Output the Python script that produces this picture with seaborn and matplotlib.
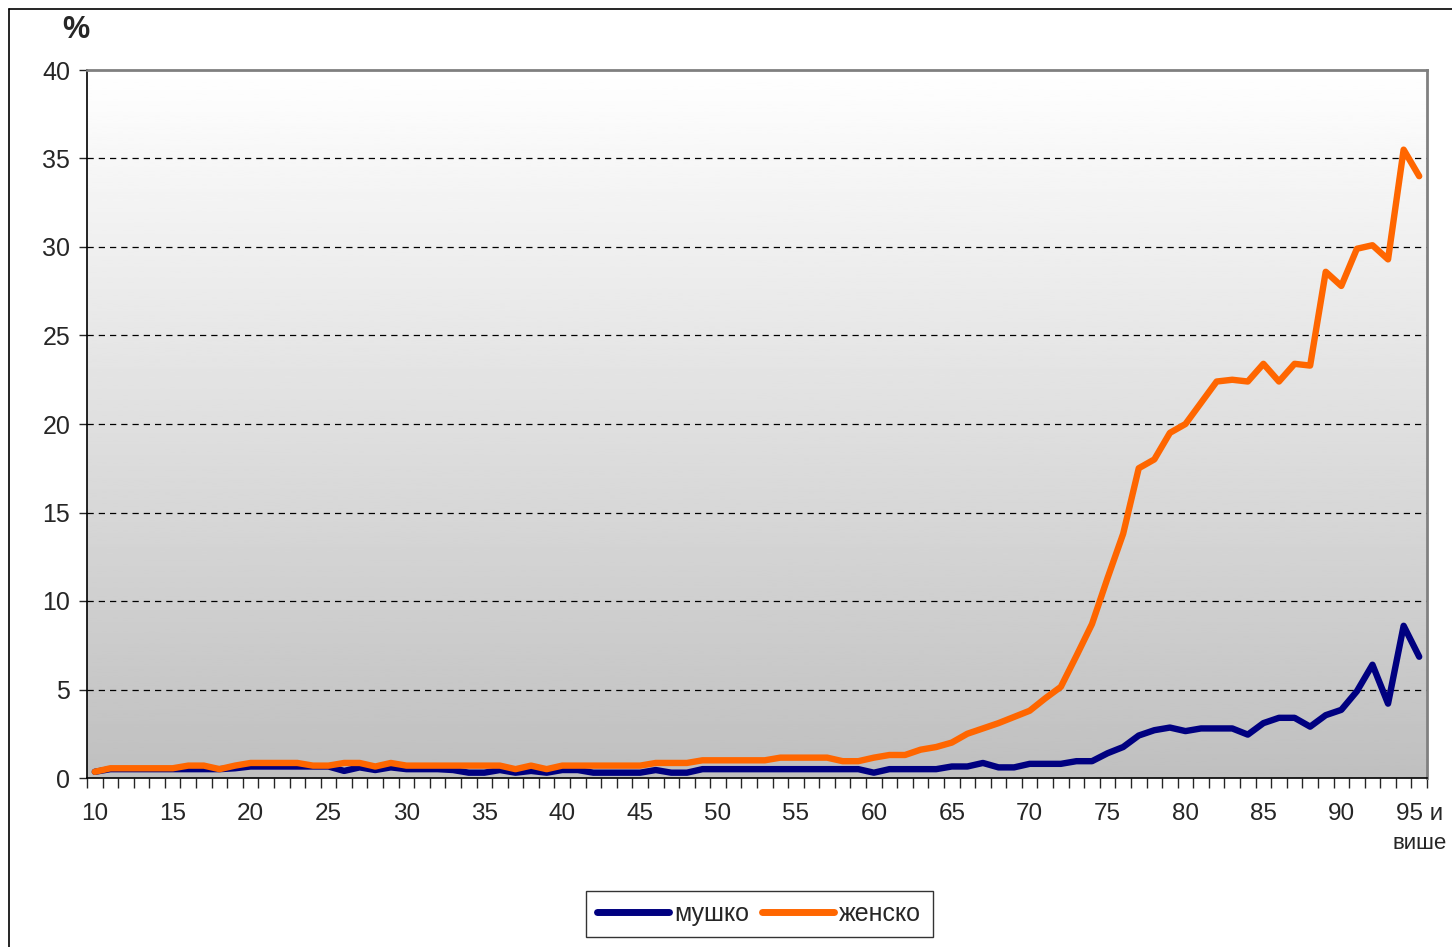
import numpy as np
import pandas as pd
import matplotlib
matplotlib.use("Agg")
import matplotlib.pyplot as plt
from matplotlib.lines import Line2D
import seaborn as sns

sns.set_style("white")
plt.rcParams['font.family'] = ['Liberation Sans', 'DejaVu Sans']

ages = list(range(10, 96))
male = [0.35, 0.5, 0.5, 0.5, 0.5, 0.5, 0.5, 0.5, 0.5, 0.55,
        0.65, 0.65, 0.65, 0.65, 0.65, 0.65, 0.4, 0.6, 0.45, 0.6,
        0.5, 0.5, 0.5, 0.45, 0.3, 0.3, 0.45, 0.3, 0.4, 0.3,
        0.45, 0.45, 0.3, 0.3, 0.3, 0.3, 0.45, 0.3, 0.3, 0.5,
        0.5, 0.5, 0.5, 0.5, 0.5, 0.5, 0.5, 0.5, 0.5, 0.5,
        0.3, 0.5, 0.5, 0.5, 0.5, 0.65, 0.65, 0.85, 0.6, 0.6,
        0.8, 0.8, 0.8, 0.95, 0.95, 1.4, 1.75, 2.4, 2.7, 2.85,
        2.65, 2.8, 2.8, 2.8, 2.45, 3.1, 3.4, 3.4, 2.9, 3.55,
        3.85, 4.9, 6.4, 4.2, 8.6, 6.85]
female = [0.35, 0.55, 0.55, 0.55, 0.55, 0.55, 0.7, 0.7, 0.5, 0.7,
          0.85, 0.85, 0.85, 0.85, 0.7, 0.7, 0.85, 0.85, 0.65, 0.85,
          0.7, 0.7, 0.7, 0.7, 0.7, 0.7, 0.7, 0.5, 0.7, 0.5,
          0.7, 0.7, 0.7, 0.7, 0.7, 0.7, 0.85, 0.85, 0.85, 1.0,
          1.0, 1.0, 1.0, 1.0, 1.15, 1.15, 1.15, 1.15, 0.95, 0.95,
          1.15, 1.3, 1.3, 1.6, 1.75, 2.0, 2.5, 2.8, 3.1, 3.45,
          3.8, 4.5, 5.15, 6.9, 8.7, 11.3, 13.8, 17.5, 18.0, 19.5,
          20.0, 21.2, 22.4, 22.5, 22.4, 23.4, 22.4, 23.4, 23.3, 28.6,
          27.8, 29.9, 30.1, 29.3, 35.5, 34.0]
series_names = ["мушко", "женско"]
colors = ["#000080", "#FF6600"]
label_ages = list(range(10, 96, 5))

df = pd.DataFrame({
    "age": ages * 2,
    "value": male + female,
    "sex": [series_names[0]] * len(ages) + [series_names[1]] * len(ages),
})

fig = plt.figure(figsize=(14.52, 9.47), dpi=100)
ax = fig.add_axes([87 / 1452, 1 - 778 / 947, 1340 / 1452, 708 / 947])

# gradient background
grad = np.linspace(0.75, 1.0, 256).reshape(-1, 1)
ax.imshow(grad, cmap="gray", vmin=0, vmax=1, origin="lower", aspect="auto",
          extent=[9.5, 95.5, 0, 40], zorder=0)

sns.lineplot(data=df, x="age", y="value", hue="sex", palette=colors,
             linewidth=4.6, ax=ax, legend=False, zorder=3)
for ln in ax.lines:
    ln.set_solid_joinstyle("round")
    ln.set_solid_capstyle("round")

ax.set_xlim(9.5, 95.5)
ax.set_ylim(0, 40)
ax.set_xlabel("")
ax.set_ylabel("")

# dashed gridlines
for y in range(5, 40, 5):
    ax.axhline(y, color="black", linestyle=(0, (5, 4)), linewidth=0.9, zorder=1)

ax.set_yticks(range(0, 41, 5))
ax.tick_params(axis="y", which="major", direction="out", length=6, width=1,
               labelsize=18, pad=6, left=True)

# ticks between categories, labels at category centers
ax.set_xticks(np.arange(9.5, 96, 1))
ax.set_xticklabels([])
ax.tick_params(axis="x", which="major", direction="out", length=7, width=1,
               bottom=True)
ax.set_xticks(label_ages, minor=True)
ax.set_xticklabels([str(a) for a in label_ages[:-1]] + ["95 и"], minor=True)
ax.tick_params(axis="x", which="minor", length=0, labelsize=17.5, pad=18)
ax.text(1.0145, -0.093, "више", transform=ax.transAxes, ha="right", va="center",
        fontsize=16)

for s in ["left", "bottom"]:
    ax.spines[s].set_color("black")
    ax.spines[s].set_linewidth(1.2)
for s in ["top", "right"]:
    ax.spines[s].set_color("#808080")
    ax.spines[s].set_linewidth(2)

fig.text(76 / 1452, 1 - 30 / 947, "%", fontsize=22, fontweight="bold",
         ha="center", va="center")

handles = [Line2D([0], [0], color=c, lw=5, solid_capstyle="round") for c in colors]
leg = fig.legend(handles, series_names, loc="center", ncol=2,
                 bbox_to_anchor=(759 / 1452, 1 - 914 / 947), fontsize=18,
                 frameon=True, fancybox=False, handlelength=2.9,
                 handletextpad=0.2, columnspacing=0.5, borderpad=0.45)
leg.get_frame().set_edgecolor("black")
leg.get_frame().set_linewidth(1)

# outer chart frame
fig.add_artist(Line2D([9 / 1452, 9 / 1452], [0, 1 - 9 / 947], color="black",
                      lw=1.2, transform=fig.transFigure))
fig.add_artist(Line2D([9 / 1452, 1], [1 - 9 / 947, 1 - 9 / 947], color="black",
                      lw=1.2, transform=fig.transFigure))

fig.savefig("out.png", dpi=100)
